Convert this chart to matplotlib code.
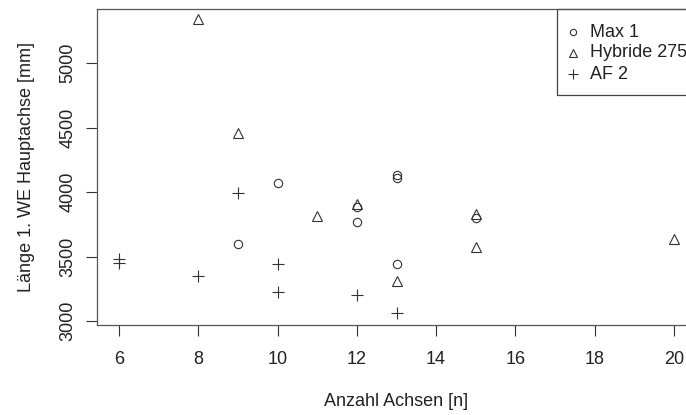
import numpy as np
import matplotlib.pyplot as plt
from matplotlib.patches import Rectangle

plt.rcParams['font.family'] = ['Liberation Sans', 'DejaVu Sans']

# Max 1
max1_n = [9, 10, 12, 12, 13, 13, 13, 15]
max1_len = [3597, 4072, 3884, 3770, 4110, 4130, 3440, 3795]
# Hybride 275
hyb_n = [8, 9, 11, 12, 13, 15, 15, 20]
hyb_len = [5340, 4460, 3814, 3905, 3310, 3830, 3571, 3633]
# AF 2
af2_n = [6, 6, 8, 9, 10, 10, 12, 13]
af2_len = [3480, 3450, 3349, 3990, 3442, 3227, 3202, 3060]

xticks = [6, 8, 10, 12, 14, 16, 18, 20]
yticks = [3000, 3500, 4000, 4500, 5000]
names = ['Max 1', 'Hybride 275', 'AF 2']

col = '#333333'
txt = '#222222'
fig = plt.figure(figsize=(6.86, 4.15), dpi=100)
# plot region runs past the right edge of the saved image
ax = fig.add_axes([97 / 686, 1 - 325 / 415, 599 / 686, 316 / 415])

styles = [dict(marker='o', mfc='none', mec=col, mew=0.8),
          dict(marker='^', mfc='none', mec=col, mew=0.8),
          dict(marker='+', color=col, mew=0.8)]
sizes = [6, 7.5, 9]

ax.plot(max1_n, max1_len, ls='none', ms=sizes[0], **styles[0])
ax.plot(hyb_n, hyb_len, ls='none', ms=sizes[1], **styles[1])
ax.plot(af2_n, af2_len, ls='none', ms=sizes[2], **styles[2])

ax.set_xlim(5.44, 20.56)
ax.set_ylim(2969, 5419)
ax.set_xticks(xticks)
ax.set_yticks(yticks)
ax.tick_params(direction='out', length=8, width=0.8, colors=col, labelcolor=txt,
               labelsize=13)
ax.tick_params(axis='x', pad=11)
ax.tick_params(axis='y', pad=7)
for lab in ax.get_yticklabels():
    lab.set_rotation(90)
    lab.set_va('center')
for s in ax.spines.values():
    s.set_color('#555555')
    s.set_linewidth(0.9)

ax.set_xlabel('Anzahl Achsen [n]', fontsize=13, color=txt)
ax.set_ylabel('Länge 1. WE Hauptachse [mm]', fontsize=13, color=txt)
ax.xaxis.set_label_coords(0.5, -(393 - 325) / 316)
ax.yaxis.set_label_coords(-(97 - 35) / 599, 0.5)

# legend box in the top right corner, R style
ax.add_patch(Rectangle((0.768, 0.728), 0.232, 0.272, transform=ax.transAxes,
                       fill=False, ec='#444444', lw=0.9, clip_on=False))
rows = [0.927, 0.861, 0.794]
for st, ms, name, yy in zip(styles, [4.5, 5.5, 7.5], names, rows):
    ax.plot([0.795], [yy], ls='none', ms=ms, transform=ax.transAxes,
            clip_on=False, **st)
    ax.text(0.823, yy, name, transform=ax.transAxes, fontsize=13, color=txt,
            va='center', ha='left')

fig.savefig('out.png', dpi=100)
